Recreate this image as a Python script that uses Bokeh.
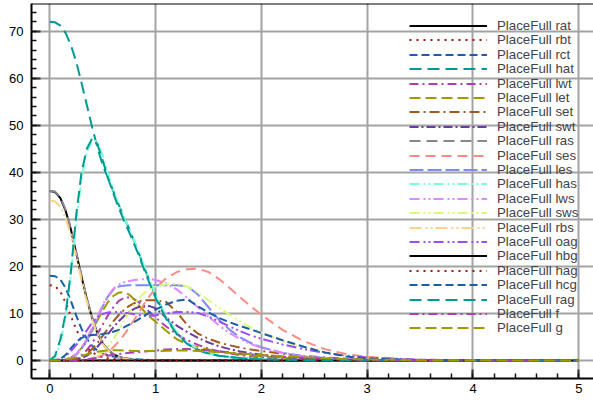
from bokeh.plotting import figure
from bokeh.models import Legend, LegendItem, FixedTicker, Span
from bokeh.embed import file_html
from bokeh.resources import INLINE

X = [0, 0.05, 0.1, 0.15, 0.2, 0.25, 0.3, 0.35, 0.4, 0.45, 0.5, 0.55, 0.6, 0.65, 0.7, 0.75,
     0.8, 0.85, 0.9, 0.95, 1.0, 1.1, 1.2, 1.3, 1.4, 1.5, 1.6, 1.7, 1.8, 1.9, 2.0,
     2.2, 2.4, 2.6, 2.8, 3.0, 3.5, 4.0, 4.5, 5.0]

rat = [36, 35.8, 34.5, 31.8, 27.8, 22.8, 17.8, 13.0, 9.0, 5.8, 3.6, 2.2, 1.3, 0.8, 0.45, 0.25,
       0.12, 0.05, 0.02, 0, 0, 0, 0, 0, 0, 0, 0, 0, 0, 0, 0, 0, 0, 0, 0, 0, 0, 0, 0, 0]
rbt = [16, 15.8, 14.6, 12.3, 9.4, 6.6, 4.3, 2.7, 1.7, 1.1, 0.7, 0.45, 0.3, 0.2, 0.12, 0.08,
       0.05, 0.03, 0.02, 0.01, 0, 0, 0, 0, 0, 0, 0, 0, 0, 0, 0, 0, 0, 0, 0, 0, 0, 0, 0, 0]
rct = [18, 17.9, 17.2, 15.4, 12.6, 9.5, 6.7, 4.6, 3.1, 2.1, 1.5, 1.1, 0.8, 0.6, 0.45, 0.35,
       0.25, 0.2, 0.15, 0.1, 0.08, 0.05, 0.03, 0.02, 0.01, 0, 0, 0, 0, 0, 0, 0, 0, 0, 0, 0, 0, 0, 0, 0]
hat = [72, 71.9, 71.2, 69.6, 67.0, 63.5, 59.0, 54.3, 49.6, 45.3, 41.5, 38.8, 36.0, 33.2, 30.5, 28.0,
       25.2, 22.3, 19.3, 16.5, 13.8, 9.1, 5.8, 3.6, 2.3, 1.5, 1.0, 0.7, 0.5, 0.35, 0.25,
       0.12, 0.06, 0.03, 0.02, 0.01, 0, 0, 0, 0]
lwt = [0, 0, 0, 0, 0.2, 0.5, 1.1, 2.2, 3.7, 5.6, 7.6, 9.6, 11.3, 12.6, 13.3, 13.4,
       13.0, 12.2, 11.2, 10.1, 9.1, 7.2, 5.6, 4.3, 3.3, 2.5, 1.9, 1.5, 1.1, 0.85, 0.65,
       0.35, 0.2, 0.1, 0.05, 0.03, 0, 0, 0, 0]
let = [0, 0, 0.05, 0.2, 0.6, 1.4, 2.6, 4.3, 6.3, 8.5, 10.6, 12.4, 13.7, 14.4, 14.5, 14.0,
       12.9, 11.5, 10.3, 9.2, 8.2, 6.3, 4.5, 3.4, 2.8, 2.3, 1.9, 1.6, 1.3, 1.05, 0.85,
       0.55, 0.35, 0.22, 0.14, 0.09, 0.02, 0, 0, 0]
set_ = [0, 0, 0, 0, 0.1, 0.3, 0.7, 1.4, 2.4, 3.7, 5.2, 6.8, 8.3, 9.6, 10.7, 11.6,
        12.2, 12.6, 12.8, 12.8, 12.8, 12.4, 10.3, 7.5, 5.7, 4.6, 3.8, 3.2, 2.7, 2.3, 2.0,
        1.4, 0.95, 0.6, 0.38, 0.23, 0.05, 0.01, 0, 0]
swt = [0, 0, 0, 0, 0, 0.2, 0.5, 1.0, 1.8, 2.9, 4.2, 5.6, 7.0, 8.3, 9.4, 10.3,
       11.0, 11.4, 11.6, 11.5, 11.1, 9.1, 7.4, 6.0, 4.8, 3.8, 3.0, 2.4, 1.9, 1.5, 1.2,
       0.75, 0.45, 0.27, 0.16, 0.1, 0.02, 0, 0, 0]
ras = [36, 35.9, 34.7, 32.0, 28.0, 23.0, 18.0, 13.2, 9.2, 5.9, 3.7, 2.3, 1.4, 0.8, 0.45, 0.25,
       0.12, 0.05, 0.02, 0, 0, 0, 0, 0, 0, 0, 0, 0, 0, 0, 0, 0, 0, 0, 0, 0, 0, 0, 0, 0]
ses = [0, 0, 0, 0, 0, 0.02, 0.05, 0.15, 0.3, 0.6, 1.1, 1.8, 2.8, 4.0, 5.4, 7.0,
       8.7, 10.5, 12.3, 13.9, 15.3, 17.5, 18.8, 19.4, 19.5, 18.8, 17.3, 15.4, 13.4, 11.5, 9.7,
       6.5, 4.1, 2.4, 1.35, 0.75, 0.15, 0.03, 0, 0]
les = [0, 0, 0, 0.1, 0.5, 1.2, 2.5, 4.3, 6.5, 9.0, 11.5, 13.6, 15.0, 15.7, 15.9, 16.0,
       16.0, 16.0, 16.0, 16.0, 16.0, 16.0, 16.0, 15.8, 14.0, 11.3, 8.6, 6.5, 4.9, 3.7, 2.8,
       1.6, 0.9, 0.5, 0.25, 0.12, 0.02, 0, 0, 0]
has = [0, 0.6, 3.5, 9.5, 18.5, 29.5, 38.5, 44.3, 46.8, 46.6, 43.5, 39.8, 36.2, 33.2, 30.5, 28.0,
       25.3, 22.5, 19.6, 16.8, 14.0, 9.4, 6.0, 3.8, 2.4, 1.5, 1.0, 0.7, 0.5, 0.35, 0.25,
       0.12, 0.06, 0.03, 0.02, 0.01, 0, 0, 0, 0]
lws = [0, 0, 0, 0.15, 0.6, 1.4, 2.8, 4.6, 6.9, 9.4, 11.8, 13.8, 15.2, 16.1, 16.6, 16.9,
       17.1, 17.2, 17.3, 17.3, 17.1, 16.4, 15.1, 13.3, 11.3, 9.3, 7.4, 5.8, 4.5, 3.5, 2.7,
       1.6, 0.9, 0.5, 0.25, 0.12, 0.02, 0, 0, 0]
sws = [0, 0, 0, 0, 0, 0, 0.05, 0.2, 0.5, 1.0, 1.8, 3.0, 4.5, 6.3, 8.3, 10.2,
       12.0, 13.4, 14.5, 15.2, 15.7, 16.2, 16.3, 15.7, 14.4, 12.8, 11.2, 9.7, 8.3, 7.0, 5.9,
       4.1, 2.7, 1.7, 1.0, 0.55, 0.1, 0.02, 0, 0]
rbs = [34, 33.8, 32.7, 30.3, 26.6, 21.9, 17.1, 12.5, 8.6, 5.6, 3.5, 2.1, 1.2, 0.7, 0.4, 0.2,
       0.1, 0.04, 0.02, 0, 0, 0, 0, 0, 0, 0, 0, 0, 0, 0, 0, 0, 0, 0, 0, 0, 0, 0, 0, 0]
oag = [0, 0.05, 0.3, 0.9, 2.0, 3.3, 4.8, 6.4, 8.0, 9.2, 9.9, 10.2, 10.3, 10.3, 10.2, 10.0,
       9.8, 9.6, 9.5, 9.5, 9.6, 10.0, 10.3, 10.3, 10.1, 9.3, 8.3, 7.2, 6.2, 5.3, 4.6,
       3.4, 2.4, 1.6, 1.0, 0.6, 0.15, 0.03, 0, 0]
hbg = [0, 0, 0, 0, 0, 0, 0, 0, 0, 0, 0, 0, 0, 0, 0, 0, 0, 0, 0, 0,
       0, 0, 0, 0, 0, 0, 0, 0, 0, 0, 0, 0, 0, 0, 0, 0, 0, 0, 0, 0]
hag = [0, 0, 0, 0, 0, 0, 0, 0, 0, 0, 0, 0, 0, 0, 0, 0, 0, 0, 0, 0,
       0, 0, 0, 0, 0, 0, 0, 0, 0, 0, 0, 0, 0, 0, 0, 0, 0, 0, 0, 0]
hcg = [0, 0.05, 0.3, 1.2, 2.6, 3.9, 4.8, 5.2, 5.4, 5.5, 5.6, 5.8, 6.1, 6.5, 7.0, 7.6,
       8.2, 8.9, 9.6, 10.2, 10.8, 11.9, 12.7, 13.0, 11.5, 10.2, 9.0, 8.1, 7.3, 6.6, 5.8,
       4.3, 2.9, 1.7, 0.85, 0.4, 0.05, 0.01, 0, 0]
rag = [0, 1.0, 4.5, 10.0, 19.0, 31.0, 40.0, 45.0, 47.2, 46.0, 42.5, 38.8, 35.5, 32.5, 29.8, 27.3,
       24.6, 21.8, 18.8, 16.0, 13.3, 8.8, 5.6, 3.5, 2.2, 1.4, 1.0, 0.7, 0.5, 0.35, 0.25,
       0.12, 0.06, 0.03, 0.02, 0.01, 0, 0, 0, 0]
f = [0, 0, 0, 0, 0.02, 0.05, 0.1, 0.2, 0.4, 0.6, 0.8, 1.0, 1.2, 1.35, 1.5, 1.6,
     1.7, 1.8, 1.9, 2.0, 2.1, 2.3, 2.4, 2.4, 2.3, 2.1, 1.9, 1.7, 1.5, 1.3, 1.1,
     0.8, 0.55, 0.35, 0.22, 0.13, 0.03, 0, 0, 0]
g = [0, 0, 0.05, 0.15, 0.35, 0.6, 0.95, 1.3, 1.6, 1.85, 2.0, 2.1, 2.15, 2.15, 2.1, 2.05,
     2.0, 2.0, 2.0, 2.0, 2.0, 2.05, 2.1, 2.1, 2.0, 1.9, 1.75, 1.6, 1.45, 1.3, 1.15,
     0.9, 0.65, 0.45, 0.3, 0.2, 0.05, 0.01, 0, 0]

names = ["rat", "rbt", "rct", "hat", "lwt", "let", "set", "swt", "ras", "ses", "les",
         "has", "lws", "sws", "rbs", "oag", "hbg", "hag", "hcg", "rag", "f", "g"]
series = [rat, rbt, rct, hat, lwt, let, set_, swt, ras, ses, les,
          has, lws, sws, rbs, oag, hbg, hag, hcg, rag, f, g]

base_styles = [
    ("#000000", "solid"),
    ("#a8140e", "2 5"),
    ("#1a5ea8", "8 4"),
    ("#009a96", "12 6"),
    ("#b03cb0", "9 4 2 4"),
    ("#9c9c00", "11 5"),
    ("#a5581c", "10 4 2 4"),
    ("#6a3aa8", "9 3 2 3"),
    ("#888888", "11 6"),
    ("#ff8a80", "10 6"),
    ("#8088ff", "14 4"),
    ("#78ffd8", "10 4 2 3 2 3"),
    ("#e288ff", "10 4 2 3 2 3"),
    ("#d6ff70", "10 4 2 3 2 3"),
    ("#ffd088", "12 4 2 3 2 3"),
    ("#9a4cff", "10 4 2 3 2 3"),
]

p = figure(width=593, height=402, x_range=(-0.173, 5.139), y_range=(-3.85, 75.9),
           output_backend="svg", toolbar_location=None,
           min_border_left=31, min_border_right=0, min_border_top=3, min_border_bottom=24)
p.outline_line_color = None
p.background_fill_color = "white"
p.border_fill_color = "white"

for ax, ticks, minor in ((p.xaxis, [0, 1, 2, 3, 4, 5], [i * 0.2 for i in range(0, 26)]),
                         (p.yaxis, [0, 10, 20, 30, 40, 50, 60, 70], [-2 + 2 * i for i in range(0, 39)])):
    ax.ticker = FixedTicker(ticks=ticks, minor_ticks=minor)
    ax.axis_line_color = "black"
    ax.axis_line_width = 2
    ax.major_tick_in = 9
    ax.major_tick_out = 0
    ax.minor_tick_in = 5
    ax.minor_tick_out = 0
    ax.major_tick_line_color = "#333333"
    ax.major_tick_line_width = 2
    ax.minor_tick_line_color = "#111111"
    ax.minor_tick_line_width = 1.5
    ax.major_label_text_font = "Liberation Sans"
    ax.major_label_text_font_size = "13px"
    ax.major_label_text_color = "black"
p.xaxis.major_label_standoff = 5
p.yaxis.major_label_standoff = 8

p.xgrid.ticker = FixedTicker(ticks=[0, 1, 2, 3, 4, 5])
p.ygrid.ticker = FixedTicker(ticks=[0, 10, 20, 30, 40, 50, 60, 70])
for gr in (p.xgrid, p.ygrid):
    gr.grid_line_color = "#a3a3a3"
    gr.grid_line_width = 2

p.add_layout(Span(location=75.9, dimension="width", line_color="black", line_width=2))

# legend: one single-row legend per entry so the row pitch can follow the original
ROW0, PITCH, ROW_H, FRAME_H = 25.4, 14.4, 15, 375
for i, (nm, ys) in enumerate(zip(names, series)):
    col, dash = base_styles[i % 16]
    r = p.line(X, ys, line_color=col, line_width=2, line_dash=dash)
    centre = ROW0 + PITCH * i - 3
    loc_y = FRAME_H - (centre + ROW_H / 2)
    leg = Legend(items=[LegendItem(label="PlaceFull " + nm, renderers=[r])],
                 location=(378, loc_y), padding=0, margin=0, spacing=0,
                 glyph_width=78, glyph_height=ROW_H, label_height=ROW_H, label_standoff=10,
                 label_text_font="Liberation Sans", label_text_font_size="13.3px",
                 background_fill_alpha=0, border_line_alpha=0)
    p.add_layout(leg)

open("out.html", "w").write(file_html(p, INLINE))
